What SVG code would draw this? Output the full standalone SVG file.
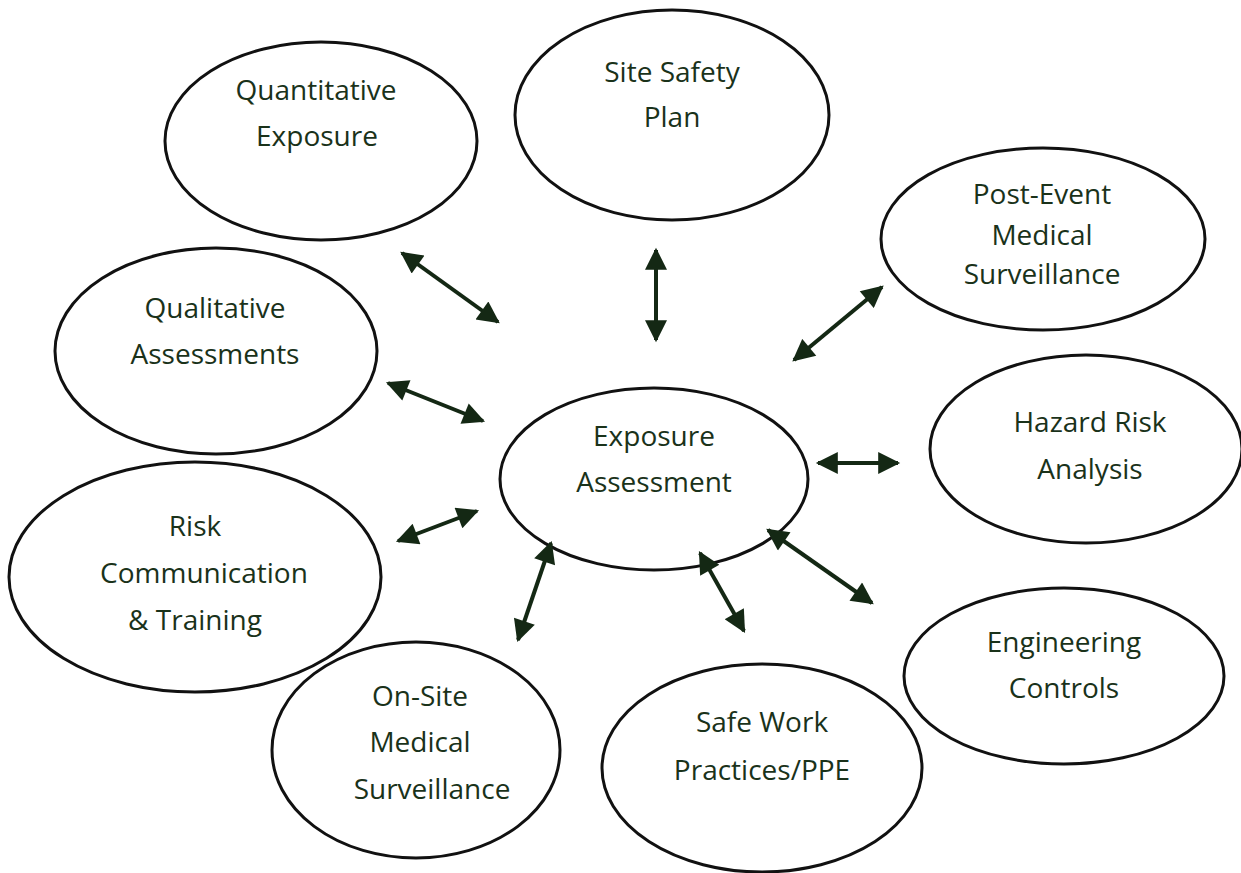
<svg xmlns="http://www.w3.org/2000/svg" width="1241" height="873" viewBox="0 0 1241 873">
<defs>
<style>
.n ellipse{fill:#fff;stroke:#111;stroke-width:3}
.n text{font-family:"Open Sans","Liberation Sans",sans-serif;font-size:28px;fill:#1a321a;text-anchor:middle}
.c line{stroke:#142814;stroke-width:4}
</style>
<marker id="ah" viewBox="0 0 10 10" refX="9" refY="5" markerWidth="6" markerHeight="5.5" markerUnits="strokeWidth" orient="auto-start-reverse">
<path d="M0,0 L10,5 L0,10 Z" fill="#142814"/>
</marker>
</defs>
<rect width="1241" height="873" fill="#fff"/>
<g id="quantitative" class="n"><ellipse cx="321" cy="141" rx="156" ry="99"/><text x="316" y="100">Quantitative</text><text x="317" y="146">Exposure</text></g>
<g id="sitesafety" class="n"><ellipse cx="672" cy="115" rx="157" ry="105"/><text x="672" y="82">Site Safety</text><text x="672" y="127">Plan</text></g>
<g id="postevent" class="n"><ellipse cx="1043" cy="239" rx="162" ry="91"/><text x="1042" y="204">Post-Event</text><text x="1042" y="245">Medical</text><text x="1042" y="284">Surveillance</text></g>
<g id="qualitative" class="n"><ellipse cx="216" cy="351" rx="161" ry="103"/><text x="215" y="318">Qualitative</text><text x="215" y="364">Assessments</text></g>
<g id="exposure" class="n"><ellipse cx="654" cy="479" rx="154" ry="91"/><text x="654" y="446">Exposure</text><text x="654" y="492">Assessment</text></g>
<g id="hazard" class="n"><ellipse cx="1086" cy="449" rx="156" ry="94"/><text x="1090" y="432">Hazard Risk</text><text x="1090" y="479">Analysis</text></g>
<g id="riskcomm" class="n"><ellipse cx="195" cy="577" rx="186" ry="115"/><text x="195" y="536">Risk</text><text x="204" y="583">Communication</text><text x="195" y="630">&amp; Training</text></g>
<g id="engineering" class="n"><ellipse cx="1064" cy="676" rx="160" ry="88"/><text x="1064" y="652">Engineering</text><text x="1064" y="698">Controls</text></g>
<g id="onsite" class="n"><ellipse cx="416" cy="750" rx="144" ry="108"/><text x="420" y="706">On-Site</text><text x="420" y="752">Medical</text><text x="432" y="799">Surveillance</text></g>
<g id="safework" class="n"><ellipse cx="762" cy="768" rx="160" ry="104"/><text x="762" y="732">Safe Work</text><text x="762" y="780">Practices/PPE</text></g>
<g id="connectors" class="c">
<line x1="402" y1="253" x2="498" y2="322" marker-start="url(#ah)" marker-end="url(#ah)"/>
<line x1="656" y1="250" x2="656" y2="340" marker-start="url(#ah)" marker-end="url(#ah)"/>
<line x1="882" y1="287" x2="794" y2="360" marker-start="url(#ah)" marker-end="url(#ah)"/>
<line x1="388" y1="383" x2="483" y2="421" marker-start="url(#ah)" marker-end="url(#ah)"/>
<line x1="818" y1="463" x2="898" y2="463" marker-start="url(#ah)" marker-end="url(#ah)"/>
<line x1="398" y1="541" x2="477" y2="511" marker-start="url(#ah)" marker-end="url(#ah)"/>
<line x1="551" y1="543" x2="518" y2="640" marker-start="url(#ah)" marker-end="url(#ah)"/>
<line x1="700" y1="553" x2="744" y2="631" marker-start="url(#ah)" marker-end="url(#ah)"/>
<line x1="768" y1="530" x2="872" y2="603" marker-start="url(#ah)" marker-end="url(#ah)"/>
</g>
</svg>
